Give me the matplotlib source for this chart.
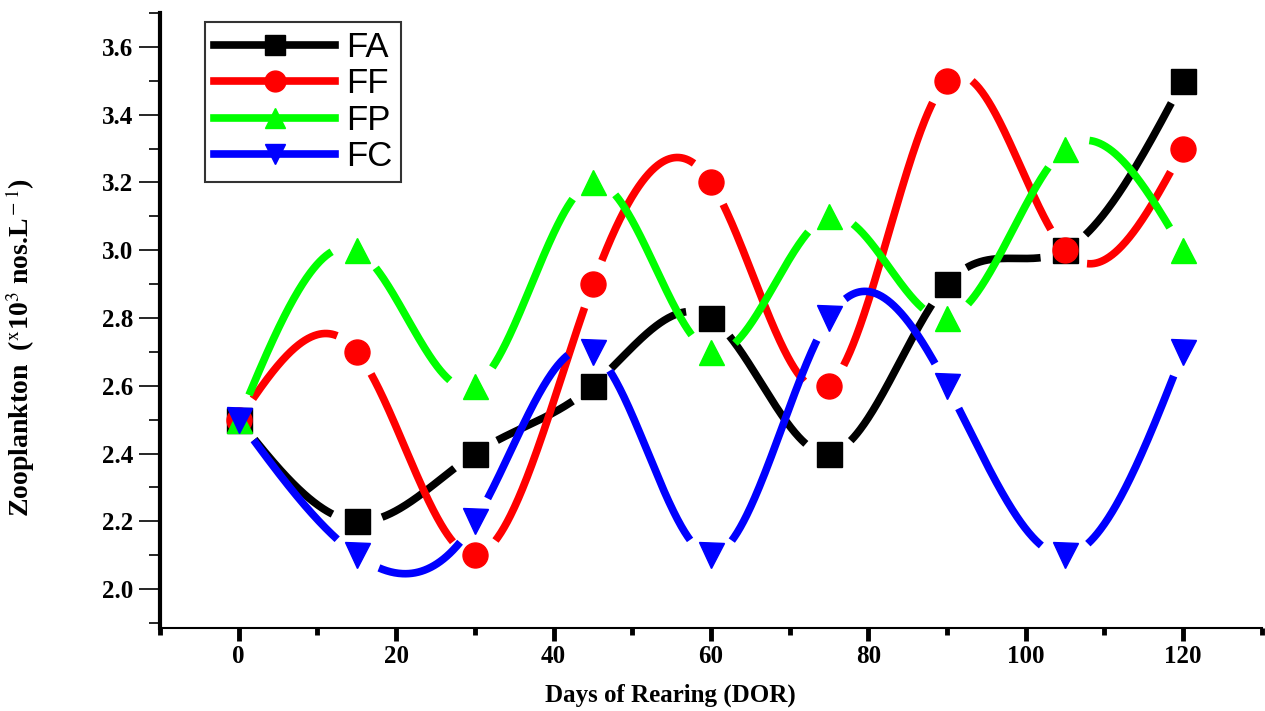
import numpy as np
import matplotlib
matplotlib.use("Agg")
import matplotlib.pyplot as plt
from matplotlib.ticker import MultipleLocator

# data
days = [0, 15, 30, 45, 60, 75, 90, 105, 120]
fa = [2.5, 2.2, 2.4, 2.6, 2.8, 2.4, 2.9, 3.0, 3.5]
ff = [2.5, 2.7, 2.1, 2.9, 3.2, 2.6, 3.5, 3.0, 3.3]
fp = [2.5, 3.0, 2.6, 3.2, 2.7, 3.1, 2.8, 3.3, 3.0]
fc = [2.5, 2.1, 2.2, 2.7, 2.1, 2.8, 2.6, 2.1, 2.7]

series = [
    ("FA", fa, "#000000", "s"),
    ("FF", ff, "#ff0000", "o"),
    ("FP", fp, "#00ff00", "^"),
    ("FC", fc, "#0000ff", "v"),
]


def natural_spline(x, y, xs):
    # natural cubic spline, like Origin's "Spline" connect mode
    x = np.asarray(x, float); y = np.asarray(y, float)
    n = len(x)
    h = np.diff(x)
    A = np.zeros((n, n)); b = np.zeros(n)
    A[0, 0] = 1; A[-1, -1] = 1
    for i in range(1, n - 1):
        A[i, i - 1] = h[i - 1]
        A[i, i] = 2 * (h[i - 1] + h[i])
        A[i, i + 1] = h[i]
        b[i] = 6 * ((y[i + 1] - y[i]) / h[i] - (y[i] - y[i - 1]) / h[i - 1])
    M = np.linalg.solve(A, b)
    idx = np.clip(np.searchsorted(x, xs) - 1, 0, n - 2)
    x0, x1 = x[idx], x[idx + 1]
    hh = x1 - x0
    t0, t1 = x1 - xs, xs - x0
    return (M[idx] * t0**3 / (6 * hh) + M[idx + 1] * t1**3 / (6 * hh)
            + (y[idx] / hh - M[idx] * hh / 6) * t0
            + (y[idx + 1] / hh - M[idx + 1] * hh / 6) * t1)


matplotlib.rcParams["mathtext.fontset"] = "stix"
fig = plt.figure(figsize=(12.65, 7.11), dpi=100)
ax = fig.add_axes([0.1265, 0.1167, 0.871, 0.865])
ax.set_xlim(-10, 130)
ax.set_ylim(1.885, 3.70)

for s in ["top", "right"]:
    ax.spines[s].set_visible(False)
ax.spines["left"].set_linewidth(3)
ax.spines["bottom"].set_linewidth(1.5)

ax.xaxis.set_major_locator(MultipleLocator(20))
ax.xaxis.set_minor_locator(MultipleLocator(10))
ax.yaxis.set_major_locator(MultipleLocator(0.2))
ax.yaxis.set_minor_locator(MultipleLocator(0.1))
ax.set_yticks(np.arange(2.0, 3.61, 0.2))
ax.tick_params(axis="x", which="major", direction="out", length=9, width=3.5, pad=3)
ax.tick_params(axis="x", which="minor", direction="out", length=5, width=3.5)
ax.tick_params(axis="y", which="major", direction="out", length=15, width=1.2, pad=4)
ax.tick_params(axis="y", which="minor", direction="out", length=8, width=1.2)
for lab in ax.get_xticklabels() + ax.get_yticklabels():
    lab.set_fontfamily("Liberation Serif")
    lab.set_fontweight("bold")
    lab.set_fontsize(18)
ax.yaxis.set_major_formatter(plt.FuncFormatter(lambda v, p: f"{v:.1f}"))

xs = np.linspace(days[0], days[-1], 1200)
fig.canvas.draw()
gap = 25  # px gap between curve and markers
pts_px = lambda X, Y: ax.transData.transform(np.column_stack([X, Y]))

handles = []
for name, vals, col, mk in series:
    ys = natural_spline(days, vals, xs)
    cp = pts_px(xs, ys)
    mp = pts_px(days, vals)
    d = np.min(np.hypot(cp[:, None, 0] - mp[None, :, 0],
                        cp[:, None, 1] - mp[None, :, 1]), axis=1)
    ym = ys.copy()
    ym[d < gap] = np.nan
    ax.plot(xs, ym, color=col, lw=5.5, solid_capstyle="butt")
    ax.plot(days, vals, linestyle="none", marker=mk, ms=18, color=col, mec=col)
    h, = ax.plot([], [], color=col, lw=5.5, marker=mk, ms=15, mec=col)
    handles.append(h)

leg = ax.legend(handles, [s[0] for s in series], loc="upper left",
                bbox_to_anchor=(0.041, 0.985), frameon=True, fancybox=False,
                edgecolor="black", handlelength=3.5, handletextpad=0.3,
                labelspacing=0.1, borderpad=0.25, borderaxespad=0,
                prop={"family": "Liberation Sans", "size": 25})
leg.get_frame().set_linewidth(1.5)

ax.set_xlabel("Days of Rearing (DOR)", fontfamily="Liberation Serif",
              fontweight="bold", fontsize=18)
ax.xaxis.set_label_coords(0.463, -0.09)
ax.set_ylabel(r"Zooplankton  ($^{\rm x}$10$^{\rm 3}$ nos.L$^{\rm -1}$)",
              fontfamily="Liberation Serif", fontweight="bold", fontsize=20)
ax.yaxis.set_label_coords(-0.112, 0.457)

fig.savefig("out.png", dpi=100)
